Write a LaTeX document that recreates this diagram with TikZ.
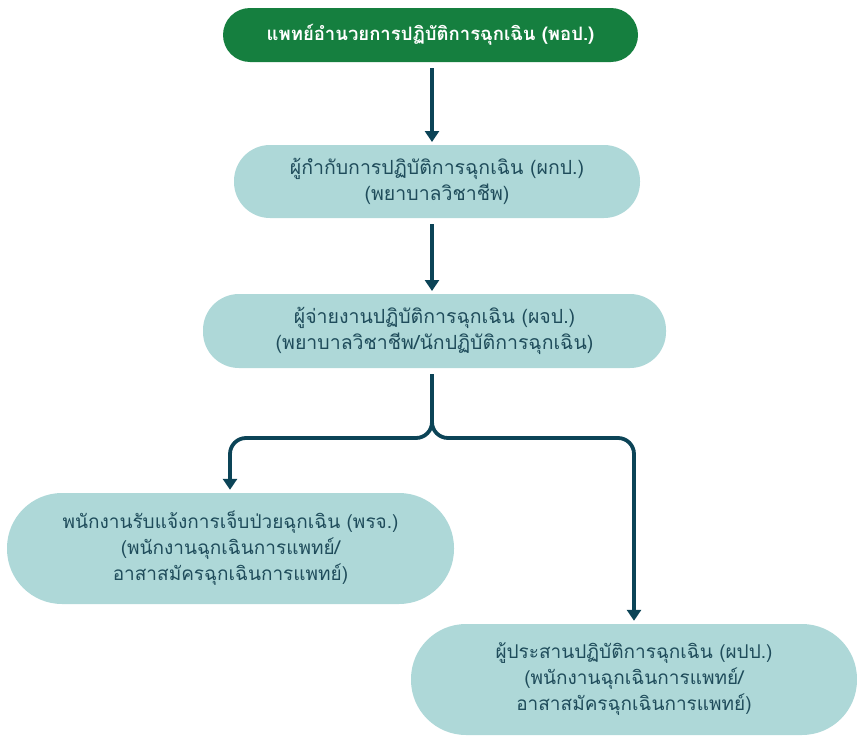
\documentclass[tikz,border=0pt]{standalone}
\usepackage{fontspec}
\usetikzlibrary{arrows.meta}
\newfontfamily\thaifont[Script=Thai]{Loma}
\definecolor{topgreen}{HTML}{157F3F}
\definecolor{boxfill}{HTML}{AED8D8}
\definecolor{boxtext}{HTML}{1F4C5B}
\definecolor{arrowcol}{HTML}{0C4457}
\begin{document}
\begin{tikzpicture}[x=1pt,y=-1pt,
  pill/.style={rounded corners=36pt, fill=boxfill, text=boxtext, align=center,
    font=\thaifont\fontsize{19.5}{26.5}\selectfont, inner sep=0pt},
  toppill/.style={rounded corners=27pt, fill=topgreen, text=white, align=center,
    font=\thaifont\bfseries\fontsize{18.5}{26}\selectfont, inner sep=0pt},
  arr/.style={draw=arrowcol, line width=3.8pt, -{Triangle[width=14pt,length=11pt]}, shorten >=3pt}]
\useasboundingbox (0,0) rectangle (857,736);
\node[toppill, minimum width=415pt, minimum height=54pt] (n1) at (430.5,35) {แพทย์อำนวยการปฏิบัติการฉุกเฉิน (พอป.)};
\node[pill, minimum width=406pt, minimum height=73pt] (n2) at (437,181.5) {ผู้กำกับการปฏิบัติการฉุกเฉิน (ผกป.)\\(พยาบาลวิชาชีพ)};
\node[pill, minimum width=463pt, minimum height=74pt] (n3) at (434.5,331) {ผู้จ่ายงานปฏิบัติการฉุกเฉิน (ผจป.)\\(พยาบาลวิชาชีพ/นักปฏิบัติการฉุกเฉิน)};
\node[pill, rounded corners=55pt, minimum width=447pt, minimum height=111pt, font=\thaifont\fontsize{19}{26}\selectfont] (n4) at (230.5,548.5) {พนักงานรับแจ้งการเจ็บป่วยฉุกเฉิน (พรจ.)\\(พนักงานฉุกเฉินการแพทย์/\\อาสาสมัครฉุกเฉินการแพทย์)};
\node[pill, rounded corners=55pt, minimum width=446pt, minimum height=111pt, font=\thaifont\fontsize{19}{26}\selectfont] (n5) at (634,679.5) {ผู้ประสานปฏิบัติการฉุกเฉิน (ผปป.)\\(พนักงานฉุกเฉินการแพทย์/\\อาสาสมัครฉุกเฉินการแพทย์)};
\coordinate (a1s) at (432,68);
\coordinate (a1e) at (432,145);
\coordinate (a2s) at (432,224);
\coordinate (a2e) at (432,294);
\coordinate (bs) at (432,374);
\coordinate (bl) at (230,438);
\coordinate (br) at (634,438);
\draw[arr] (a1s) -- (a1e);
\draw[arr] (a2s) -- (a2e);
\draw[arr, rounded corners=16pt] (bs) |- (bl) -- (n4.north -| bl);
\draw[arr, rounded corners=16pt] (bs) |- (br) -- (n5.north -| br);
\end{tikzpicture}
\end{document}
